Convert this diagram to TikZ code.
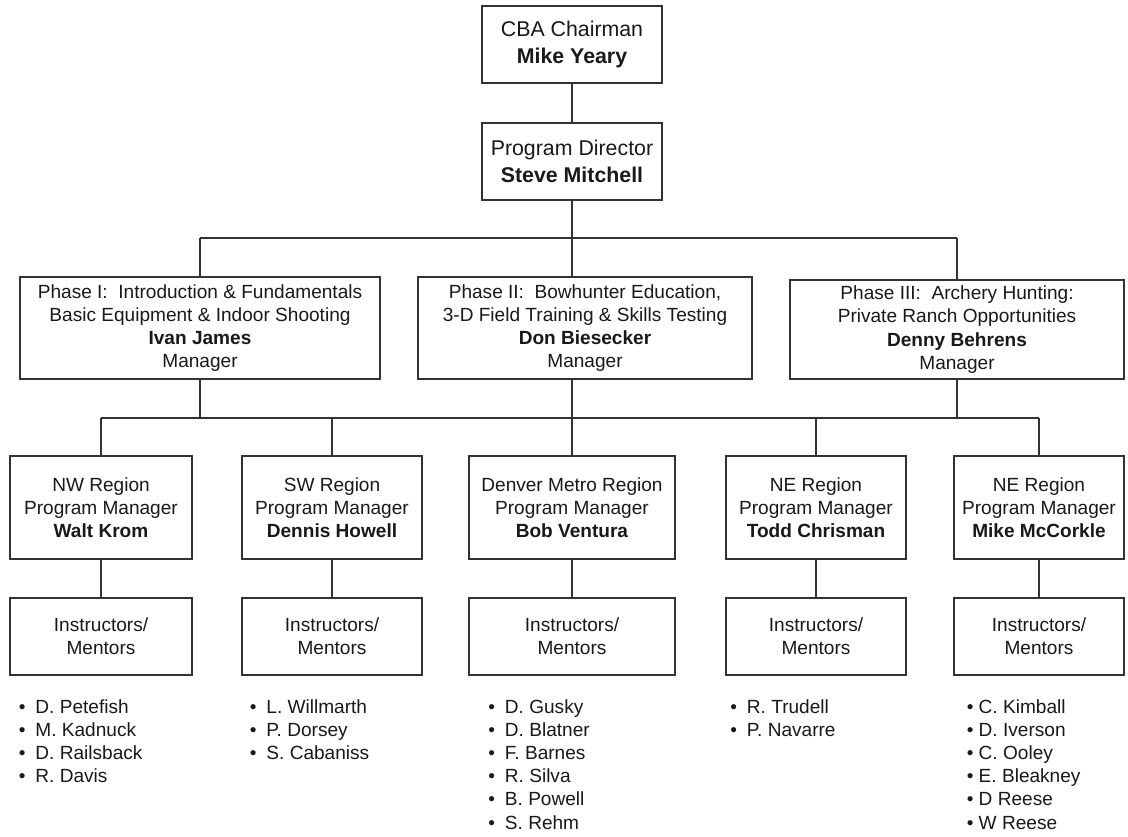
\documentclass[tikz,border=0pt]{standalone}
\usepackage{fontspec}
\setmainfont{Liberation Sans}

\begin{document}
\begin{tikzpicture}[x=0.75pt, y=-0.75pt,
  box/.style={rectangle, draw=black!80, line width=1.5pt, align=center, inner sep=0pt, text=black!90, font={\fontsize{14.3}{17.4}\selectfont}},
  topbox/.style={box, font={\fontsize{16}{20}\selectfont}},
  link/.style={draw=black!80, line width=1.5pt},
  names/.style={anchor=north west, align=left, inner sep=0pt, text=black!90, font={\fontsize{14.3}{17.4}\selectfont}}]

\useasboundingbox[fill=white] (0, 0) rectangle (1128, 836);

% top of the chart
\node[topbox, minimum width=135pt, minimum height=57.75pt] (chair) at (572, 44.5) {CBA Chairman\\\textbf{Mike Yeary}};
\node[topbox, minimum width=135pt, minimum height=57.75pt] (dir) at (572, 161.5) {Program Director\\\textbf{Steve Mitchell}};

% phases
\node[box, minimum width=270pt, minimum height=76.5pt] (ph1) at (200, 328) {Phase I:\ \ Introduction \& Fundamentals\\Basic Equipment \& Indoor Shooting\\\textbf{Ivan James}\\Manager};
\node[box, minimum width=250.5pt, minimum height=76.5pt] (ph2) at (585, 328) {Phase II:\ \ Bowhunter Education,\\3-D Field Training \& Skills Testing\\\textbf{Don Biesecker}\\Manager};
\node[box, minimum width=250.5pt, minimum height=74.25pt] (ph3) at (957, 329.5) {Phase III:\ \ Archery Hunting:\\Private Ranch Opportunities\\\textbf{Denny Behrens}\\Manager};

% regions
\node[box, minimum width=136.5pt, minimum height=77.25pt] (nw) at (101, 507.5) {NW Region\\Program Manager\\\textbf{Walt Krom}};
\node[box, minimum width=135pt, minimum height=77.25pt] (sw) at (332, 507.5) {SW Region\\Program Manager\\\textbf{Dennis Howell}};
\node[box, minimum width=154.5pt, minimum height=77.25pt] (den) at (572, 507.5) {Denver Metro Region\\Program Manager\\\textbf{Bob Ventura}};
\node[box, minimum width=135pt, minimum height=77.25pt] (ne) at (816, 507.5) {NE Region\\Program Manager\\\textbf{Todd Chrisman}};
\node[box, minimum width=127.5pt, minimum height=77.25pt] (ne2) at (1039, 507.5) {NE Region\\Program Manager\\\textbf{Mike McCorkle}};

% instructors
\node[box, minimum width=136.5pt, minimum height=57.75pt] (nwi) at (101, 636.5) {Instructors/\\Mentors};
\node[box, minimum width=135pt, minimum height=57.75pt] (swi) at (332, 636.5) {Instructors/\\Mentors};
\node[box, minimum width=154.5pt, minimum height=57.75pt] (deni) at (572, 636.5) {Instructors/\\Mentors};
\node[box, minimum width=135pt, minimum height=57.75pt] (nei) at (816, 636.5) {Instructors/\\Mentors};
\node[box, minimum width=127.5pt, minimum height=57.75pt] (ne2i) at (1039, 636.5) {Instructors/\\Mentors};

% name lists
\node[names] (nwl) at (18.5, 699) {\textbullet\hspace{7.5pt}D. Petefish\\\textbullet\hspace{7.5pt}M. Kadnuck\\\textbullet\hspace{7.5pt}D. Railsback\\\textbullet\hspace{7.5pt}R. Davis};
\node[names] (swl) at (249.5, 699) {\textbullet\hspace{7.5pt}L. Willmarth\\\textbullet\hspace{7.5pt}P. Dorsey\\\textbullet\hspace{7.5pt}S. Cabaniss};
\node[names] (denl) at (488, 699) {\textbullet\hspace{7.5pt}D. Gusky\\\textbullet\hspace{7.5pt}D. Blatner\\\textbullet\hspace{7.5pt}F. Barnes\\\textbullet\hspace{7.5pt}R. Silva\\\textbullet\hspace{7.5pt}B. Powell\\\textbullet\hspace{7.5pt}S. Rehm};
\node[names] (nel) at (730, 699) {\textbullet\hspace{7.5pt}R. Trudell\\\textbullet\hspace{7.5pt}P. Navarre};
\node[names] (ne2l) at (966.5, 699) {\textbullet{} C. Kimball\\\textbullet{} D. Iverson\\\textbullet{} C. Ooley\\\textbullet{} E. Bleakney\\\textbullet{} D Reese\\\textbullet{} W Reese};

% connectors
\coordinate (bus1) at (572, 238);
\coordinate (bus2) at (572, 418);

\draw[link] (chair) -- (dir);
\draw[link] (dir) -- (bus1);
\draw[link] (ph1.north |- bus1) -- (ph3.north |- bus1);
\draw[link] (ph1.north |- bus1) -- (ph1);
\draw[link] (bus1) -- (bus1 |- ph2.north);
\draw[link] (ph3.north |- bus1) -- (ph3);

\draw[link] (nw.north |- bus2) -- (ne2.north |- bus2);
\draw[link] (ph1) -- (ph1 |- bus2);
\draw[link] (bus2 |- ph2.south) -- (den);
\draw[link] (ph3) -- (ph3 |- bus2);
\foreach \r in {nw, sw, ne, ne2}
  \draw[link] (\r.north |- bus2) -- (\r);

\draw[link] (nw) -- (nwi);
\draw[link] (sw) -- (swi);
\draw[link] (den) -- (deni);
\draw[link] (ne) -- (nei);
\draw[link] (ne2) -- (ne2i);

\end{tikzpicture}
\end{document}
